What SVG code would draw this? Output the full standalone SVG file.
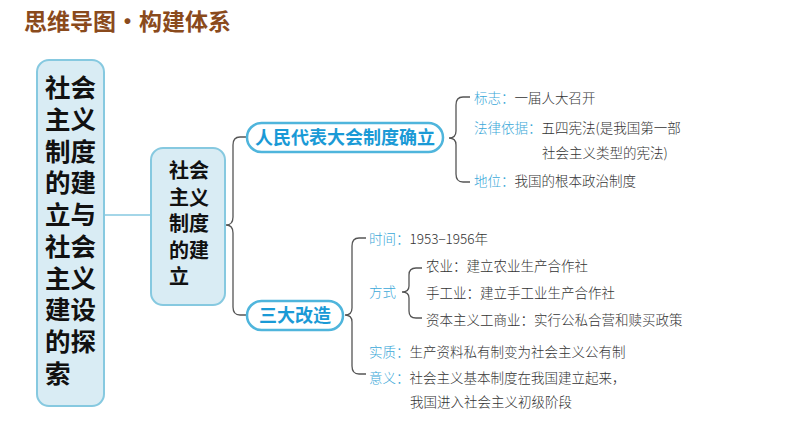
<svg xmlns="http://www.w3.org/2000/svg" width="794" height="447" viewBox="0 0 794 447">
<style>
text{font-family:"Noto Sans CJK SC","Noto Sans",sans-serif}
.title{font-size:23px;fill:#8a4a1c;font-weight:bold}
.box{fill:#d9ecf4;stroke:#86c9e0;stroke-width:2}
.big{font-size:25.5px;font-weight:bold;fill:#111}
.mid{font-size:20px;font-weight:bold;fill:#111}
.pill{fill:#fff;stroke:#4fb5dc;stroke-width:2.5}
.pt{font-size:18px;font-weight:bold;fill:#1a9ad6}
.lab{font-size:13.5px;fill:#3aa8d8;font-weight:300}
.txt{font-size:13.5px;fill:#333;font-weight:300}
.con{fill:none;stroke:#555;stroke-width:1.3}
.lk{fill:none;stroke:#86c9e0;stroke-width:1.5}
</style>
<text class="title" x="24" y="30">思维导图•构建体系</text>
<g id="connectors">
<line class="lk" x1="104" y1="215" x2="151" y2="215"/>
<path class="con" d="M247,137 H240 Q233,137 233,145 V217 Q233,225 226,225 Q233,225 233,233 V307 Q233,315 240,315 H247"/>
<path class="con" d="M470,97 H463 Q456,97 456,105 V131 Q456,138 449,138 Q456,138 456,145 V174 Q456,182 463,182 H470"/>
<path class="con" d="M366,238 H359 Q352,238 352,246 V308 Q352,315 345,315 Q352,315 352,322 V366 Q352,374 359,374 H366"/>
<path class="con" d="M422,268 H416 Q409,268 409,275 V286 Q409,292 402,292 Q409,292 409,298 V311 Q409,318 416,318 H422"/>
</g>
<g id="root">
<rect class="box" x="37" y="60" width="67" height="346" rx="12"/>
<text class="big"><tspan x="45" y="97">社会</tspan><tspan x="45" y="129">主义</tspan><tspan x="45" y="161">制度</tspan><tspan x="45" y="192">的建</tspan><tspan x="45" y="224">立与</tspan><tspan x="45" y="256">社会</tspan><tspan x="45" y="288">主义</tspan><tspan x="45" y="319">建设</tspan><tspan x="45" y="351">的探</tspan><tspan x="45" y="383">索</tspan></text>
</g>
<g id="n1">
<rect class="box" x="151" y="148" width="74" height="157" rx="12"/>
<text class="mid"><tspan x="169" y="178">社会</tspan><tspan x="169" y="205">主义</tspan><tspan x="169" y="231">制度</tspan><tspan x="169" y="258">的建</tspan><tspan x="169" y="284">立</tspan></text>
</g>
<g id="n2">
<rect class="pill" x="247" y="123" width="196" height="29" rx="14.5"/>
<text class="pt" x="345" y="144" text-anchor="middle">人民代表大会制度确立</text>
</g>
<g id="n3">
<rect class="pill" x="247" y="301" width="96" height="29" rx="14.5"/>
<text class="pt" x="295" y="322" text-anchor="middle">三大改造</text>
</g>
<g id="d1">
<text x="474" y="103"><tspan class="lab">标志：</tspan><tspan class="txt">一届人大召开</tspan></text>
<text x="474" y="133"><tspan class="lab">法律依据：</tspan><tspan class="txt">五四宪法(是我国第一部</tspan></text>
<text class="txt" x="542" y="158">社会主义类型的宪法)</text>
<text x="474" y="186"><tspan class="lab">地位：</tspan><tspan class="txt">我国的根本政治制度</tspan></text>
</g>
<g id="d2">
<text x="369" y="244"><tspan class="lab">时间：</tspan><tspan class="txt">1953−1956年</tspan></text>
<text class="lab" x="369" y="297">方式</text>
<text class="txt" x="426" y="271">农业：建立农业生产合作社</text>
<text class="txt" x="426" y="298">手工业：建立手工业生产合作社</text>
<text class="txt" x="426" y="325">资本主义工商业：实行公私合营和赎买政策</text>
<text x="369" y="357"><tspan class="lab">实质：</tspan><tspan class="txt">生产资料私有制变为社会主义公有制</tspan></text>
<text x="369" y="383"><tspan class="lab">意义：</tspan><tspan class="txt">社会主义基本制度在我国建立起来，</tspan></text>
<text class="txt" x="410" y="407">我国进入社会主义初级阶段</text>
</g>
</svg>
